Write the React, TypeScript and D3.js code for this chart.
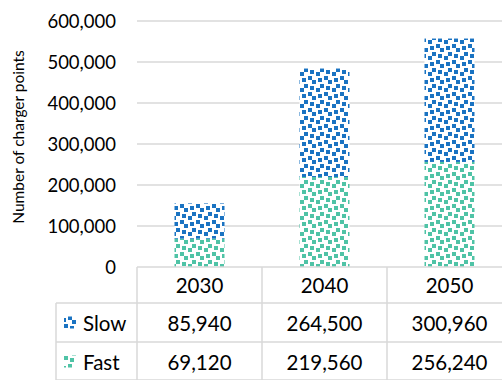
import * as d3 from 'd3';

const years = ['2030', '2040', '2050'];
const slow = [85940, 264500, 300960];
const fast = [69120, 219560, 256240];
const yTicks = [0, 100000, 200000, 300000, 400000, 500000, 600000];

const WIDTH = 502;
const HEIGHT = 380;
const PLOT_LEFT = 137;
const PLOT_TOP = 21;
const PLOT_BOTTOM = 267;
const ROW1 = 303;
const ROW2 = 342;
const ROW3 = 381;
const TABLE_LEFT = 56;
const BLUE = '#1a73c2';
const TEAL = '#4fc3a6';
const GRID = '#d9d9d9';
const FONT = 'Lato, "Open Sans", sans-serif';

// 8x8 confetti tile, each bit drawn as 2x2 px
const confetti = [0x8d, 0x0c, 0xc0, 0xd8, 0x1b, 0x03, 0x30, 0xb1];

function Pattern({ id, color }: { id: string; color: string }) {
  const cells: [number, number][] = [];
  confetti.forEach((row, r) => {
    for (let c = 0; c < 8; c++) {
      if (row & (0x80 >> c)) cells.push([c, r]);
    }
  });
  return (
    <pattern id={id} patternUnits="userSpaceOnUse" width={16} height={16}>
      <rect width={16} height={16} fill="white" />
      {cells.map(([c, r]) => (
        <rect key={`${c}-${r}`} x={c * 2} y={r * 2} width={2} height={2} fill={color} />
      ))}
    </pattern>
  );
}

export default function App() {
  const x = d3.scaleBand<string>().domain(years).range([PLOT_LEFT, PLOT_LEFT + 375]);
  const y = d3.scaleLinear().domain([0, 600000]).range([PLOT_BOTTOM, PLOT_TOP]);
  const fmt = d3.format(',');
  const barW = 50;

  const stack = d3.stack<number>()
    .keys(['fast', 'slow'])
    .value((i, key) => (key === 'fast' ? fast[i] : slow[i]))(d3.range(years.length));

  const rows = [
    { name: 'Slow', values: slow, fill: 'url(#slowPat)', y0: ROW1, y1: ROW2 },
    { name: 'Fast', values: fast, fill: 'url(#fastPat)', y0: ROW2, y1: ROW3 },
  ];

  return (
    <svg
      width={WIDTH}
      height={HEIGHT}
      style={{ position: 'absolute', left: 0, top: 0, background: 'white' }}
      fontFamily={FONT}
    >
      <defs>
        <Pattern id="slowPat" color={BLUE} />
        <Pattern id="fastPat" color={TEAL} />
      </defs>

      {yTicks.map((t) => (
        <g key={t}>
          {t > 0 && (
            <line x1={PLOT_LEFT} x2={WIDTH} y1={y(t)} y2={y(t)} stroke={GRID} strokeWidth={1.5} />
          )}
          <text x={116} y={y(t)} textAnchor="end" dominantBaseline="central" fontSize={18.5} fill="#000">
            {fmt(t)}
          </text>
        </g>
      ))}

      <text
        transform="translate(18, 137) rotate(-90)"
        textAnchor="middle"
        dominantBaseline="central"
        fontSize={15.5}
        fill="#000"
      >
        Number of charger points
      </text>

      {stack.map((series) => (
        <g key={series.key} fill={series.key === 'slow' ? 'url(#slowPat)' : 'url(#fastPat)'}>
          {series.map((d, i) => (
            <rect
              key={i}
              x={(x(years[i]) ?? 0) + x.bandwidth() / 2 - barW / 2}
              y={y(d[1])}
              width={barW}
              height={y(d[0]) - y(d[1])}
            />
          ))}
        </g>
      ))}

      {/* data table */}
      <g stroke={GRID} strokeWidth={1.5}>
        <line x1={PLOT_LEFT} x2={WIDTH} y1={PLOT_BOTTOM} y2={PLOT_BOTTOM} />
        <line x1={TABLE_LEFT} x2={WIDTH} y1={ROW1} y2={ROW1} />
        <line x1={TABLE_LEFT} x2={WIDTH} y1={ROW2} y2={ROW2} />
        <line x1={TABLE_LEFT} x2={WIDTH} y1={ROW3 - 1} y2={ROW3 - 1} />
        <line x1={TABLE_LEFT} x2={TABLE_LEFT} y1={ROW1} y2={ROW3} />
        {years.map((yr) => (
          <line key={yr} x1={x(yr)} x2={x(yr)} y1={PLOT_BOTTOM} y2={ROW3} />
        ))}
      </g>

      {years.map((yr) => (
        <text
          key={yr}
          x={(x(yr) ?? 0) + x.bandwidth() / 2}
          y={(PLOT_BOTTOM + ROW1) / 2}
          textAnchor="middle"
          dominantBaseline="central"
          fontSize={20.5}
          fill="#000"
        >
          {yr}
        </text>
      ))}

      {rows.map((row) => (
        <g key={row.name}>
          <rect x={64} y={(row.y0 + row.y1) / 2 - 6} width={12} height={12} fill={row.fill} />
          <text x={83} y={(row.y0 + row.y1) / 2} dominantBaseline="central" fontSize={20.5} fill="#000">
            {row.name}
          </text>
          {row.values.map((v, i) => (
            <text
              key={i}
              x={(x(years[i]) ?? 0) + x.bandwidth() / 2}
              y={(row.y0 + row.y1) / 2}
              textAnchor="middle"
              dominantBaseline="central"
              fontSize={20.5}
              fill="#000"
            >
              {fmt(v)}
            </text>
          ))}
        </g>
      ))}
    </svg>
  );
}
